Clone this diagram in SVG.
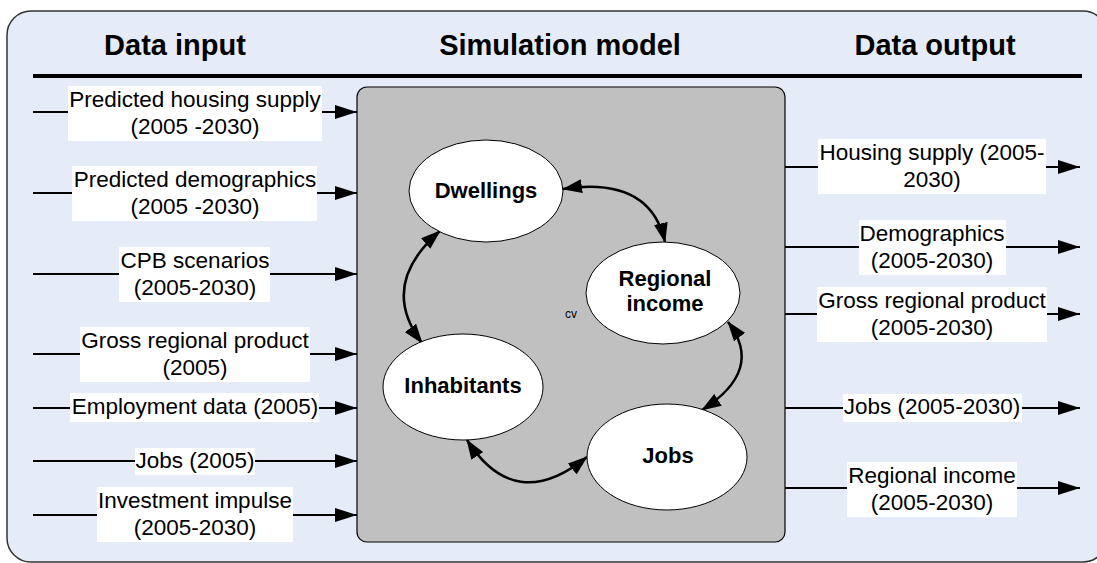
<svg xmlns="http://www.w3.org/2000/svg" width="1097" height="563" viewBox="0 0 1097 563">
<style>
.title{font-family:"Liberation Sans",Arial,sans-serif;font-weight:bold;font-size:29px;fill:#000;text-anchor:middle}
.lbl{font-family:"Liberation Sans",Arial,sans-serif;font-size:22.5px;fill:#000;text-anchor:middle}
.node{font-family:"Liberation Sans",Arial,sans-serif;font-weight:bold;font-size:22px;fill:#000;text-anchor:middle}
.lbox{fill:#fff;stroke:none}
.flow{stroke:#000;stroke-width:2;fill:none;marker-end:url(#ah)}
.loop{stroke:#000;stroke-width:2.5;fill:none;marker-start:url(#ah2);marker-end:url(#ah2)}
.ell{fill:#fff;stroke:#000;stroke-width:1}
</style>
<defs>
<marker id="ah" markerUnits="userSpaceOnUse" markerWidth="22" markerHeight="14" refX="22" refY="7" orient="auto">
<path d="M0,0 L22,7 L0,14 z" fill="#000"/>
</marker>
<marker id="ah2" markerUnits="userSpaceOnUse" markerWidth="20" markerHeight="14" refX="19" refY="7" orient="auto-start-reverse">
<path d="M0,0 L20,7 L0,14 z" fill="#000"/>
</marker>
</defs>
<rect id="frame" x="7" y="11" width="1100" height="551" rx="24" ry="24" fill="#E5ECF7" stroke="#333" stroke-width="1.5"/>
<g id="headers">
<text class="title" x="175" y="55">Data input</text>
<text class="title" x="560" y="55">Simulation model</text>
<text class="title" x="935" y="55">Data output</text>
<line x1="33" y1="76" x2="1082" y2="76" stroke="#000" stroke-width="4"/>
</g>
<rect id="model" x="357" y="87" width="428" height="455" rx="10" ry="10" fill="#C0C0C0" stroke="#000" stroke-width="1.2"/>
<g id="connectors">
<line class="flow" x1="33" y1="112" x2="357" y2="112"/>
<line class="flow" x1="33" y1="193" x2="357" y2="193"/>
<line class="flow" x1="33" y1="274" x2="357" y2="274"/>
<line class="flow" x1="33" y1="354" x2="357" y2="354"/>
<line class="flow" x1="33" y1="408" x2="357" y2="408"/>
<line class="flow" x1="33" y1="461" x2="357" y2="461"/>
<line class="flow" x1="33" y1="515" x2="357" y2="515"/>
<line class="flow" x1="785" y1="167" x2="1080" y2="167"/>
<line class="flow" x1="785" y1="247" x2="1080" y2="247"/>
<line class="flow" x1="785" y1="314" x2="1080" y2="314"/>
<line class="flow" x1="785" y1="408" x2="1080" y2="408"/>
<line class="flow" x1="785" y1="488" x2="1080" y2="488"/>
<path class="loop" d="M563,189 Q650,176 665,242"/>
<path class="loop" d="M440,231 Q378,285 422,343"/>
<path class="loop" d="M467,440 Q515,515 587,457"/>
<path class="loop" d="M728,322 Q765,370 702,410"/>
</g>
<g id="in-housing"><rect class="lbox" x="68" y="86" width="254" height="55"/><text class="lbl" x="195" y="107">Predicted housing supply</text><text class="lbl" x="195" y="133.5">(2005 -2030)</text></g>
<g id="in-demographics"><rect class="lbox" x="72" y="166" width="245" height="55"/><text class="lbl" x="195" y="187">Predicted demographics</text><text class="lbl" x="195" y="213.5">(2005 -2030)</text></g>
<g id="in-cpb"><rect class="lbox" x="119" y="247" width="151" height="55"/><text class="lbl" x="195" y="268">CPB scenarios</text><text class="lbl" x="195" y="294.5">(2005-2030)</text></g>
<g id="in-grp"><rect class="lbox" x="80" y="327" width="230" height="55"/><text class="lbl" x="195" y="348">Gross regional product</text><text class="lbl" x="195" y="374.5">(2005)</text></g>
<g id="in-employment"><rect class="lbox" x="70" y="393" width="249" height="29"/><text class="lbl" x="195" y="414">Employment data (2005)</text></g>
<g id="in-jobs"><rect class="lbox" x="135" y="448" width="120" height="27"/><text class="lbl" x="195" y="468">Jobs (2005)</text></g>
<g id="in-investment"><rect class="lbox" x="97" y="487" width="196" height="55"/><text class="lbl" x="195" y="508">Investment impulse</text><text class="lbl" x="195" y="534.5">(2005-2030)</text></g>
<g id="out-housing"><rect class="lbox" x="818" y="139" width="228" height="55"/><text class="lbl" x="932" y="160">Housing supply (2005-</text><text class="lbl" x="932" y="186.5">2030)</text></g>
<g id="out-demographics"><rect class="lbox" x="859" y="220" width="147" height="55"/><text class="lbl" x="932" y="241">Demographics</text><text class="lbl" x="932" y="267.5">(2005-2030)</text></g>
<g id="out-grp"><rect class="lbox" x="817" y="287" width="230" height="55"/><text class="lbl" x="932" y="308">Gross regional product</text><text class="lbl" x="932" y="334.5">(2005-2030)</text></g>
<g id="out-jobs"><rect class="lbox" x="843" y="394" width="179" height="28"/><text class="lbl" x="932" y="414">Jobs (2005-2030)</text></g>
<g id="out-income"><rect class="lbox" x="847" y="462" width="170" height="55"/><text class="lbl" x="932" y="483">Regional income</text><text class="lbl" x="932" y="509.5">(2005-2030)</text></g>
<g id="dwellings"><ellipse class="ell" cx="486" cy="191" rx="77" ry="51"/><text class="node" x="486" y="198">Dwellings</text></g>
<g id="regional-income"><ellipse class="ell" cx="663" cy="293" rx="77" ry="51"/><text class="node" x="665" y="286">Regional</text><text class="node" x="665" y="311">income</text></g>
<g id="inhabitants"><ellipse class="ell" cx="463" cy="387" rx="80" ry="53"/><text class="node" x="463" y="393">Inhabitants</text></g>
<g id="jobs"><ellipse class="ell" cx="667" cy="457" rx="80" ry="53"/><text class="node" x="668" y="463">Jobs</text></g>
<text x="571" y="318" font-family="Liberation Sans, Arial, sans-serif" font-size="12" text-anchor="middle">cv</text>
</svg>
